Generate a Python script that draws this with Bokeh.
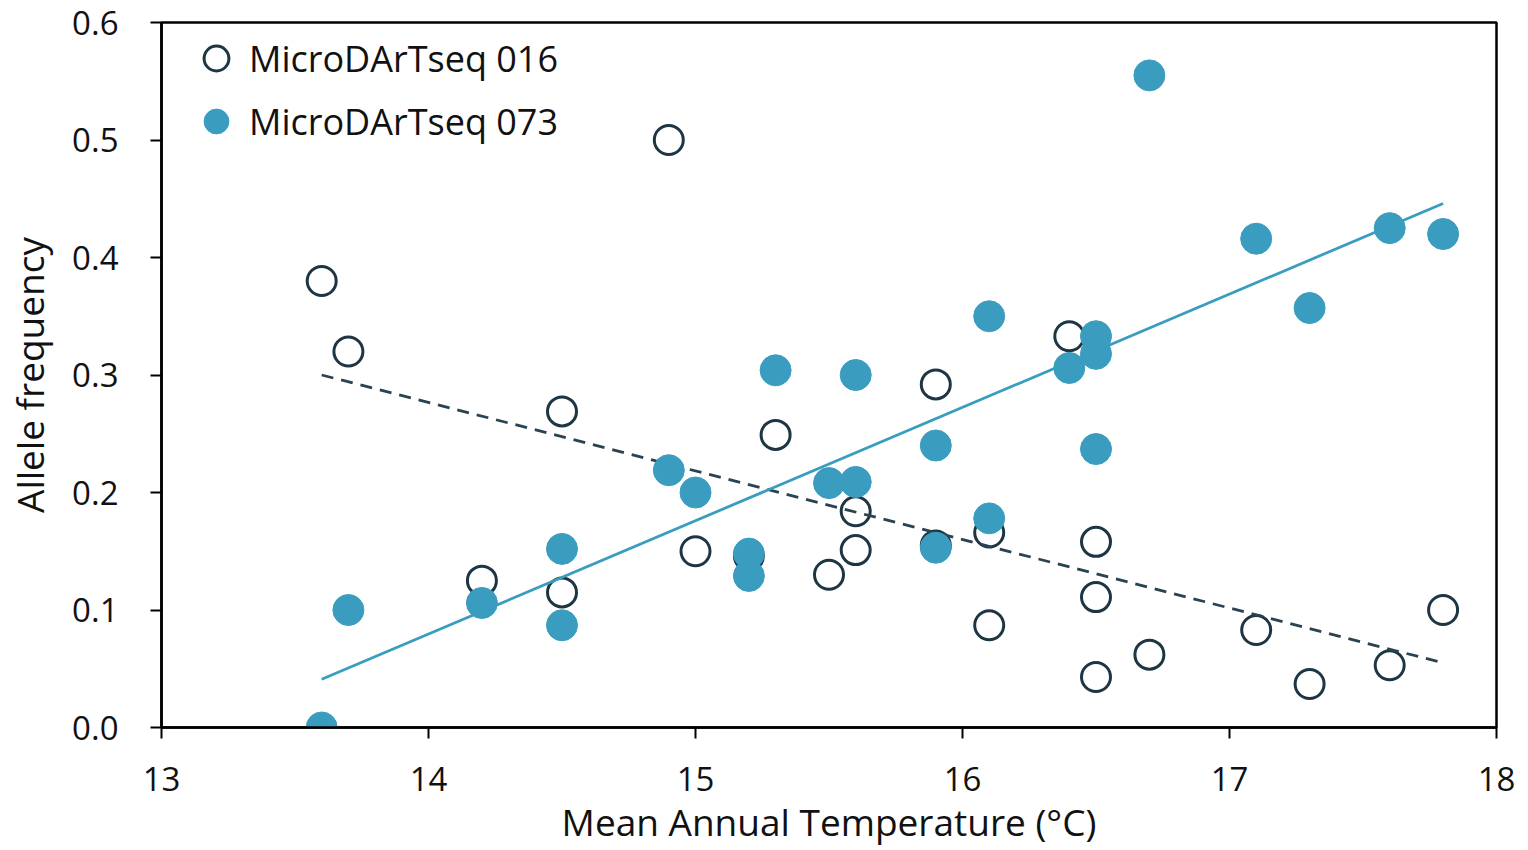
from bokeh.plotting import figure
from bokeh.models import ColumnDataSource, Legend, LegendItem, PrintfTickFormatter, FixedTicker, Range1d
from bokeh.embed import file_html
from bokeh.resources import INLINE

# --- data ---
temp_016 = [13.6, 13.7, 14.2, 14.5, 14.5, 14.9, 15.0, 15.2, 15.3, 15.5, 15.6, 15.6,
            15.9, 15.9, 16.1, 16.1, 16.4, 16.5, 16.5, 16.5, 16.7, 17.1, 17.3, 17.6, 17.8]
freq_016 = [0.380, 0.320, 0.125, 0.269, 0.115, 0.500, 0.150, 0.146, 0.249, 0.130, 0.184, 0.151,
            0.292, 0.155, 0.166, 0.087, 0.333, 0.158, 0.111, 0.043, 0.062, 0.083, 0.037, 0.053, 0.100]

temp_073 = [13.6, 13.7, 14.2, 14.5, 14.5, 14.9, 15.0, 15.2, 15.2, 15.3, 15.5, 15.6, 15.6,
            15.9, 15.9, 16.1, 16.1, 16.4, 16.5, 16.5, 16.5, 16.7, 17.1, 17.3, 17.6, 17.8]
freq_073 = [0.000, 0.100, 0.106, 0.152, 0.087, 0.219, 0.200, 0.148, 0.129, 0.304, 0.208, 0.209, 0.300,
            0.240, 0.153, 0.350, 0.178, 0.306, 0.333, 0.318, 0.237, 0.555, 0.416, 0.357, 0.425, 0.420]

trend_x = [13.6, 17.8]
trend_016 = [0.300, 0.055]
trend_073 = [0.041, 0.446]

x_ticks = [13, 14, 15, 16, 17, 18]
y_ticks = [0.0, 0.1, 0.2, 0.3, 0.4, 0.5, 0.6]

FONT = "Open Sans"
TEAL = "#3a9dc0"
DARK = "#1e3644"

p = figure(width=1520, height=850, output_backend="svg", toolbar_location=None,
           x_range=Range1d(13, 18), y_range=Range1d(0, 0.6),
           min_border_left=161, min_border_right=24, min_border_top=22, min_border_bottom=123)

p.xgrid.visible = False
p.ygrid.visible = False
p.outline_line_color = "black"
p.outline_line_width = 2.5
p.outline_line_alpha = 1
p.background_fill_color = "white"
p.border_fill_color = "white"

for ax in (p.xaxis[0], p.yaxis[0]):
    ax.axis_line_color = "black"
    ax.axis_line_width = 2.5
    ax.major_tick_line_color = "black"
    ax.major_tick_line_width = 2
    ax.major_tick_out = 11
    ax.major_tick_in = 0
    ax.minor_tick_line_color = None
    ax.major_label_text_font = FONT
    ax.major_label_text_font_size = "33px"
    ax.major_label_text_color = "#111111"
    ax.axis_label_text_font = FONT
    ax.axis_label_text_font_size = "37px"
    ax.axis_label_text_font_style = "normal"
    ax.axis_label_text_color = "#111111"

p.xaxis[0].ticker = FixedTicker(ticks=x_ticks)
p.yaxis[0].ticker = FixedTicker(ticks=y_ticks)
p.yaxis[0].formatter = PrintfTickFormatter(format="%.1f")
p.xaxis[0].axis_label = "Mean Annual Temperature (°C)"
p.yaxis[0].axis_label = "Allele frequency"
p.xaxis[0].major_label_standoff = 28
p.xaxis[0].axis_label_standoff = 2
p.yaxis[0].major_label_standoff = 32
p.yaxis[0].axis_label_standoff = 14

src016 = ColumnDataSource(dict(x=temp_016, y=freq_016))
src073 = ColumnDataSource(dict(x=temp_073, y=freq_073))

r_open = p.scatter("x", "y", source=src016, size=29, marker="circle",
                   fill_color="white", fill_alpha=1, line_color=DARK, line_width=3)
p.line(trend_x, trend_016, line_color="#2a4352", line_width=2.8, line_dash="12 8")
r_fill = p.scatter("x", "y", source=src073, size=31, marker="circle",
                   fill_color=TEAL, line_color=TEAL, line_width=1)
p.line(trend_x, trend_073, line_color=TEAL, line_width=2.8)

legend = Legend(items=[LegendItem(label="MicroDArTseq 016", renderers=[r_open]),
                       LegendItem(label="MicroDArTseq 073", renderers=[r_fill])],
                location=(22, 575))
legend.label_text_font = FONT
legend.label_text_font_size = "36px"
legend.label_text_color = "#111111"
legend.border_line_alpha = 0
legend.background_fill_alpha = 0
legend.glyph_width = 66
legend.glyph_height = 62
legend.label_standoff = -10
legend.spacing = 1
legend.padding = 0
legend.margin = 0
p.add_layout(legend)

open("out.html", "w").write(file_html(p, INLINE))
